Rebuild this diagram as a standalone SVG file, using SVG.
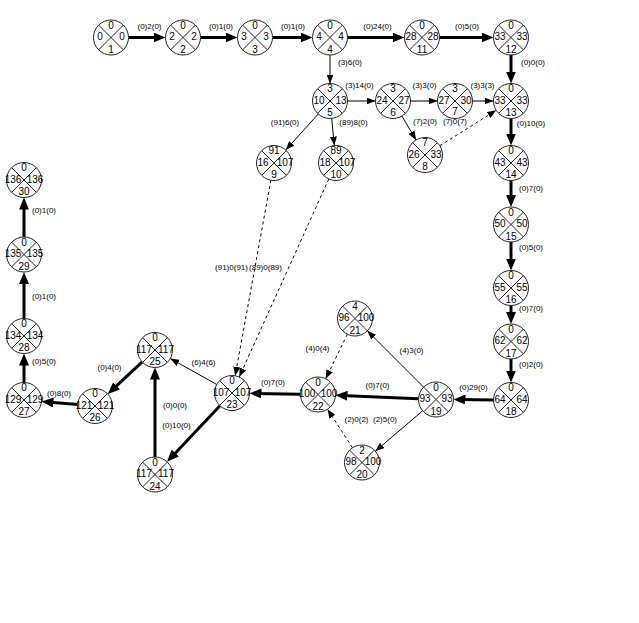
<svg xmlns="http://www.w3.org/2000/svg" width="639" height="623" viewBox="0 0 639 623">
<style>
text{font-family:"Liberation Sans",Arial,sans-serif;fill:#000}
.v{font-size:10px;text-anchor:middle}
.l{font-size:8px;text-anchor:middle}
.thick{stroke:#000;stroke-width:3;fill:none;marker-end:url(#ah)}
.thin{stroke:#000;stroke-width:1;fill:none;marker-end:url(#at)}
.dash{stroke:#000;stroke-width:1;fill:none;stroke-dasharray:3 3;marker-end:url(#at)}
</style>
<defs>
<marker id="ah" markerUnits="userSpaceOnUse" markerWidth="12" markerHeight="10" refX="6" refY="5" orient="auto"><path d="M0,0 L12,5 L0,10 z" fill="#000"/></marker>
<marker id="at" markerUnits="userSpaceOnUse" markerWidth="9" markerHeight="7" refX="9" refY="3.5" orient="auto"><path d="M0,0 L9,3.5 L0,7 z" fill="#000"/></marker>
<g id="ns"><circle r="17.5" fill="#fff" stroke="#222" stroke-width="1"/><line x1="-12.37" y1="-12.37" x2="12.37" y2="12.37" stroke="#222" stroke-width="1"/><line x1="-12.37" y1="12.37" x2="12.37" y2="-12.37" stroke="#222" stroke-width="1"/></g>
</defs>
<rect width="639" height="623" fill="#fff"/>
<g id="connectors">
<line class="thick" x1="128.5" y1="37.5" x2="159.5" y2="37.5"/>
<line class="thick" x1="200.5" y1="37.5" x2="231.5" y2="37.5"/>
<line class="thick" x1="272.5" y1="37.5" x2="306.5" y2="37.5"/>
<line class="thick" x1="347.5" y1="37.5" x2="398.5" y2="37.5"/>
<line class="thick" x1="439.5" y1="37.5" x2="487.5" y2="37.5"/>
<line class="thick" x1="511" y1="55" x2="511" y2="77.5"/>
<line class="thick" x1="511" y1="118.5" x2="511" y2="139.5"/>
<line class="thick" x1="511" y1="180.5" x2="511" y2="201"/>
<line class="thick" x1="511" y1="242" x2="511" y2="264.5"/>
<line class="thick" x1="511" y1="305.5" x2="511" y2="318"/>
<line class="thick" x1="511" y1="359" x2="511" y2="376.5"/>
<line class="thick" x1="493.5" y1="400" x2="459.5" y2="399.5"/>
<line class="thick" x1="418.52" y1="398.76" x2="341.48" y2="395.49"/>
<line class="thick" x1="300.5" y1="394.19" x2="255.5" y2="393.41"/>
<line class="thick" x1="219.98" y1="405.72" x2="171.14" y2="457.42"/>
<line class="thick" x1="155" y1="457" x2="155" y2="373.5"/>
<line class="thick" x1="142.21" y1="361.94" x2="112.18" y2="389.96"/>
<line class="thick" x1="77.56" y1="404.53" x2="47.42" y2="401.98"/>
<line class="thick" x1="24" y1="382.5" x2="24" y2="359.5"/>
<line class="thick" x1="24" y1="318.5" x2="24" y2="278"/>
<line class="thick" x1="24" y1="237" x2="24" y2="203.5"/>
<line class="thin" x1="330" y1="55" x2="330" y2="83.5"/>
<line class="thin" x1="347.5" y1="101" x2="375.5" y2="101"/>
<line class="thin" x1="410.5" y1="101" x2="437.5" y2="101"/>
<line class="thin" x1="472.5" y1="101" x2="493.5" y2="101"/>
<line class="thin" x1="318.27" y1="113.99" x2="285.73" y2="150.01"/>
<line class="thin" x1="331.69" y1="118.42" x2="334.31" y2="145.58"/>
<line class="thin" x1="401.92" y1="116.06" x2="416.08" y2="139.94"/>
<line class="thin" x1="423.63" y1="387.13" x2="367.37" y2="330.87"/>
<line class="thin" x1="422.67" y1="410.84" x2="375.33" y2="451.16"/>
<line class="thin" x1="216.72" y1="384.47" x2="170.28" y2="358.53"/>
<line class="dash" x1="439.82" y1="145.69" x2="496.18" y2="110.31"/>
<line class="dash" x1="270.86" y1="180.22" x2="235.14" y2="375.78"/>
<line class="dash" x1="328.79" y1="178.95" x2="239.21" y2="377.05"/>
<line class="dash" x1="347.34" y1="334.23" x2="325.66" y2="378.77"/>
<line class="dash" x1="352.49" y1="447.81" x2="327.51" y2="409.19"/>
<text class="l" x="149.5" y="28.5">(0)2(0)</text>
<text class="l" x="221" y="28.5">(0)1(0)</text>
<text class="l" x="293" y="28.5">(0)1(0)</text>
<text class="l" x="377.5" y="28.5">(0)24(0)</text>
<text class="l" x="467" y="28.5">(0)5(0)</text>
<text class="l" x="350" y="64.5">(3)6(0)</text>
<text class="l" x="533" y="64.5">(0)0(0)</text>
<text class="l" x="359.5" y="88">(3)14(0)</text>
<text class="l" x="424.5" y="88">(3)3(0)</text>
<text class="l" x="482.5" y="88">(3)3(3)</text>
<text class="l" x="285" y="125">(91)6(0)</text>
<text class="l" x="353.5" y="125">(89)8(0)</text>
<text class="l" x="425" y="123.5">(7)2(0)</text>
<text class="l" x="455" y="123.5">(7)0(7)</text>
<text class="l" x="531" y="126">(0)10(0)</text>
<text class="l" x="531" y="191">(0)7(0)</text>
<text class="l" x="531" y="249.5">(0)5(0)</text>
<text class="l" x="531" y="311">(0)7(0)</text>
<text class="l" x="531" y="367">(0)2(0)</text>
<text class="l" x="473.5" y="389.5">(0)29(0)</text>
<text class="l" x="231.5" y="270">(91)0(91)</text>
<text class="l" x="265.5" y="270">(89)0(89)</text>
<text class="l" x="317.5" y="351">(4)0(4)</text>
<text class="l" x="411.5" y="353">(4)3(0)</text>
<text class="l" x="377.5" y="388">(0)7(0)</text>
<text class="l" x="356.5" y="422">(2)0(2)</text>
<text class="l" x="385" y="422">(2)5(0)</text>
<text class="l" x="273" y="385">(0)7(0)</text>
<text class="l" x="203.5" y="365">(6)4(6)</text>
<text class="l" x="109.5" y="370">(0)4(0)</text>
<text class="l" x="175" y="408">(0)0(0)</text>
<text class="l" x="176.5" y="428">(0)10(0)</text>
<text class="l" x="59" y="396">(0)8(0)</text>
<text class="l" x="44" y="364">(0)5(0)</text>
<text class="l" x="44" y="299">(0)1(0)</text>
<text class="l" x="44" y="213">(0)1(0)</text>
</g>
<g id="n1" transform="translate(111,37.5)"><use href="#ns"/><text class="v" y="-9">0</text><text class="v" x="-11" y="2.5">0</text><text class="v" x="11" y="2.5">0</text><text class="v" y="15">1</text></g>
<g id="n2" transform="translate(183,37.5)"><use href="#ns"/><text class="v" y="-9">0</text><text class="v" x="-11" y="2.5">2</text><text class="v" x="11" y="2.5">2</text><text class="v" y="15">2</text></g>
<g id="n3" transform="translate(255,37.5)"><use href="#ns"/><text class="v" y="-9">0</text><text class="v" x="-11" y="2.5">3</text><text class="v" x="11" y="2.5">3</text><text class="v" y="15">3</text></g>
<g id="n4" transform="translate(330,37.5)"><use href="#ns"/><text class="v" y="-9">0</text><text class="v" x="-11" y="2.5">4</text><text class="v" x="11" y="2.5">4</text><text class="v" y="15">4</text></g>
<g id="n11" transform="translate(422,37.5)"><use href="#ns"/><text class="v" y="-9">0</text><text class="v" x="-11" y="2.5">28</text><text class="v" x="11" y="2.5">28</text><text class="v" y="15">11</text></g>
<g id="n12" transform="translate(511,37.5)"><use href="#ns"/><text class="v" y="-9">0</text><text class="v" x="-11" y="2.5">33</text><text class="v" x="11" y="2.5">33</text><text class="v" y="15">12</text></g>
<g id="n5" transform="translate(330,101)"><use href="#ns"/><text class="v" y="-9">3</text><text class="v" x="-11" y="2.5">10</text><text class="v" x="11" y="2.5">13</text><text class="v" y="15">5</text></g>
<g id="n6" transform="translate(393,101)"><use href="#ns"/><text class="v" y="-9">3</text><text class="v" x="-11" y="2.5">24</text><text class="v" x="11" y="2.5">27</text><text class="v" y="15">6</text></g>
<g id="n7" transform="translate(455,101)"><use href="#ns"/><text class="v" y="-9">3</text><text class="v" x="-11" y="2.5">27</text><text class="v" x="11" y="2.5">30</text><text class="v" y="14">7</text></g>
<g id="n13" transform="translate(511,101)"><use href="#ns"/><text class="v" y="-9">0</text><text class="v" x="-11" y="2.5">33</text><text class="v" x="11" y="2.5">33</text><text class="v" y="15">13</text></g>
<g id="n8" transform="translate(425,155)"><use href="#ns"/><text class="v" y="-9">7</text><text class="v" x="-11" y="2.5">26</text><text class="v" x="11" y="2.5">33</text><text class="v" y="15">8</text></g>
<g id="n9" transform="translate(274,163)"><use href="#ns"/><text class="v" y="-9">91</text><text class="v" x="-11" y="2.5">16</text><text class="v" x="11" y="2.5">107</text><text class="v" y="15">9</text></g>
<g id="n10" transform="translate(336,163)"><use href="#ns"/><text class="v" y="-9">89</text><text class="v" x="-11" y="2.5">18</text><text class="v" x="11" y="2.5">107</text><text class="v" y="15">10</text></g>
<g id="n14" transform="translate(511,163)"><use href="#ns"/><text class="v" y="-9">0</text><text class="v" x="-11" y="2.5">43</text><text class="v" x="11" y="2.5">43</text><text class="v" y="15">14</text></g>
<g id="n15" transform="translate(511,224.5)"><use href="#ns"/><text class="v" y="-9">0</text><text class="v" x="-11" y="2.5">50</text><text class="v" x="11" y="2.5">50</text><text class="v" y="15">15</text></g>
<g id="n16" transform="translate(511,288)"><use href="#ns"/><text class="v" y="-9">0</text><text class="v" x="-11" y="2.5">55</text><text class="v" x="11" y="2.5">55</text><text class="v" y="15">16</text></g>
<g id="n17" transform="translate(511,341.5)"><use href="#ns"/><text class="v" y="-9">0</text><text class="v" x="-11" y="2.5">62</text><text class="v" x="11" y="2.5">62</text><text class="v" y="15">17</text></g>
<g id="n18" transform="translate(511,400)"><use href="#ns"/><text class="v" y="-9">0</text><text class="v" x="-11" y="2.5">64</text><text class="v" x="11" y="2.5">64</text><text class="v" y="15">18</text></g>
<g id="n19" transform="translate(436,399.5)"><use href="#ns"/><text class="v" y="-9">0</text><text class="v" x="-11" y="2.5">93</text><text class="v" x="11" y="2.5">93</text><text class="v" y="15">19</text></g>
<g id="n20" transform="translate(362,462.5)"><use href="#ns"/><text class="v" y="-9">2</text><text class="v" x="-11" y="2.5">98</text><text class="v" x="11" y="2.5">100</text><text class="v" y="15">20</text></g>
<g id="n21" transform="translate(355,318.5)"><use href="#ns"/><text class="v" y="-9">4</text><text class="v" x="-11" y="2.5">96</text><text class="v" x="11" y="2.5">100</text><text class="v" y="15">21</text></g>
<g id="n22" transform="translate(318,394.5)"><use href="#ns"/><text class="v" y="-9">0</text><text class="v" x="-11" y="2.5">100</text><text class="v" x="11" y="2.5">100</text><text class="v" y="15">22</text></g>
<g id="n23" transform="translate(232,393)"><use href="#ns"/><text class="v" y="-9">0</text><text class="v" x="-11" y="2.5">107</text><text class="v" x="11" y="2.5">107</text><text class="v" y="15">23</text></g>
<g id="n24" transform="translate(155,474.5)"><use href="#ns"/><text class="v" y="-9">0</text><text class="v" x="-11" y="2.5">117</text><text class="v" x="11" y="2.5">117</text><text class="v" y="15">24</text></g>
<g id="n25" transform="translate(155,350)"><use href="#ns"/><text class="v" y="-9">0</text><text class="v" x="-11" y="2.5">117</text><text class="v" x="11" y="2.5">117</text><text class="v" y="15">25</text></g>
<g id="n26" transform="translate(95,406)"><use href="#ns"/><text class="v" y="-9">0</text><text class="v" x="-11" y="2.5">121</text><text class="v" x="11" y="2.5">121</text><text class="v" y="15">26</text></g>
<g id="n27" transform="translate(24,400)"><use href="#ns"/><text class="v" y="-9">0</text><text class="v" x="-11" y="2.5">129</text><text class="v" x="11" y="2.5">129</text><text class="v" y="15">27</text></g>
<g id="n28" transform="translate(24,336)"><use href="#ns"/><text class="v" y="-9">0</text><text class="v" x="-11" y="2.5">134</text><text class="v" x="11" y="2.5">134</text><text class="v" y="15">28</text></g>
<g id="n29" transform="translate(24,254.5)"><use href="#ns"/><text class="v" y="-9">0</text><text class="v" x="-11" y="2.5">135</text><text class="v" x="11" y="2.5">135</text><text class="v" y="15">29</text></g>
<g id="n30" transform="translate(24,180)"><use href="#ns"/><text class="v" y="-9">0</text><text class="v" x="-11" y="2.5">136</text><text class="v" x="11" y="2.5">136</text><text class="v" y="15">30</text></g>
</svg>
